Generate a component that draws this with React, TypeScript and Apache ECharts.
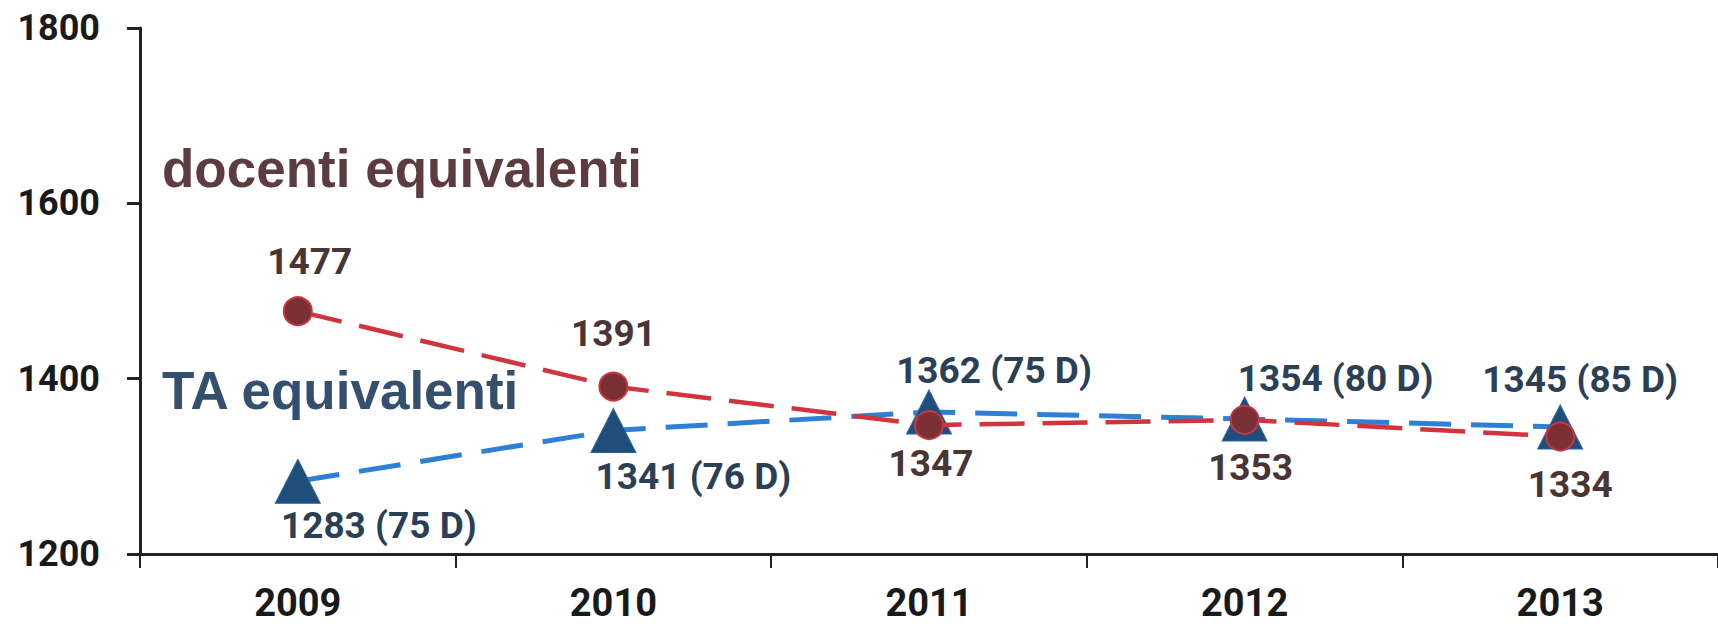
import React, { useEffect, useRef } from "react";
import * as echarts from "echarts";

const years = ["2009", "2010", "2011", "2012", "2013"];
const docenti = [1477, 1391, 1347, 1353, 1334];
const taValues = [1283, 1341, 1362, 1354, 1345];
const taDocenti = [75, 76, 75, 80, 85];
const yTicks = { min: 1200, max: 1800, interval: 200 };

// label offsets (centre of label relative to point), pixels
const docLabelOffsets = [[12, -50], [0, -53], [2, 38], [6, 48], [10, 48]];
const taLabelOffsets = [[81, 44], [80, 46], [65, -41], [91, -40], [20, -47]];

const LABEL_FONT = "Roboto, 'Open Sans', sans-serif";

export default function App() {
  const ref = useRef<HTMLDivElement>(null);
  useEffect(() => {
    document.body.style.margin = "0";
    const chart = echarts.init(ref.current!, null, { renderer: "svg" });
    chart.setOption({
      animation: false,
      backgroundColor: "#ffffff",
      grid: { left: 140, right: -12, top: 28, bottom: 70, containLabel: false },
      xAxis: {
        type: "category",
        data: years,
        boundaryGap: true,
        axisLine: { lineStyle: { color: "#222", width: 3 } },
        axisTick: { show: true, length: 14, lineStyle: { color: "#222", width: 2 } },
        axisLabel: {
          margin: 34,
          fontSize: 38,
          lineHeight: 30,
          fontWeight: "bold",
          fontFamily: LABEL_FONT,
          color: "#1a1a1a",
        },
        splitLine: { show: false },
      },
      yAxis: {
        type: "value",
        min: yTicks.min,
        max: yTicks.max,
        interval: yTicks.interval,
        axisLine: { show: true, lineStyle: { color: "#222", width: 3 } },
        axisTick: { show: true, length: 13, lineStyle: { color: "#222", width: 3 } },
        axisLabel: {
          margin: 40,
          fontSize: 36,
          fontWeight: "bold",
          fontFamily: LABEL_FONT,
          color: "#1a1a1a",
          formatter: (v: number) => String(v),
        },
        splitLine: { show: false },
      },
      graphic: [
        {
          type: "text",
          left: 162,
          top: 142,
          style: {
            text: "docenti equivalenti",
            fontSize: 53,
            fontWeight: "bold",
            fontFamily: "'Liberation Sans', Arial, sans-serif",
            fill: "#5C3C3F",
          },
        },
        {
          type: "text",
          left: 162,
          top: 364,
          style: {
            text: "TA equivalenti",
            fontSize: 53,
            fontWeight: "bold",
            fontFamily: "'Liberation Sans', Arial, sans-serif",
            fill: "#34506E",
          },
        },
      ],
      series: [
        {
          name: "TA equivalenti",
          type: "line",
          data: taValues.map((v, i) => ({
            value: v,
            label: {
              show: true,
              position: "inside",
              offset: taLabelOffsets[i],
              formatter: `${v} (${taDocenti[i]} D)`,
            },
          })),
          symbol: "triangle",
          symbolSize: [45, 44],
          itemStyle: { color: "#1F4E7A", borderColor: "#2A64A0", borderWidth: 1 },
          lineStyle: { color: "#2E80D6", width: 5, type: [42, 20] },
          label: {
            fontSize: 37,
            fontWeight: "bold",
            fontFamily: LABEL_FONT,
            color: "#2B3F55",
          },
          z: 2,
        },
        {
          name: "docenti equivalenti",
          type: "line",
          data: docenti.map((v, i) => ({
            value: v,
            label: {
              show: true,
              position: "inside",
              offset: docLabelOffsets[i],
              formatter: `${v}`,
            },
          })),
          symbol: "circle",
          symbolSize: 28,
          itemStyle: { color: "#7A3034", borderColor: "#C8363F", borderWidth: 2 },
          lineStyle: { color: "#D0353F", width: 4.5, type: [45, 18] },
          label: {
            fontSize: 37,
            fontWeight: "bold",
            fontFamily: LABEL_FONT,
            color: "#4B3434",
          },
          z: 3,
        },
      ],
    });
    return () => chart.dispose();
  }, []);
  return <div ref={ref} style={{ width: 1718, height: 624 }} />;
}
